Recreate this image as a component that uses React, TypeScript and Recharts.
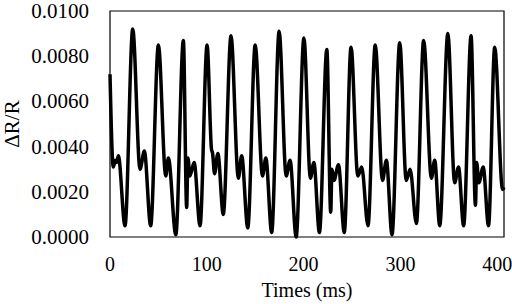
import { Label, Line, LineChart, ReferenceArea, XAxis, YAxis } from 'recharts';

// time (ms) and ΔR/R
const times = [
  0, 3.4, 5.5, 7, 8.6, 15.5, 23.5, 31, 35.5, 42, 50, 57.6, 60.3, 68, 75.8, 79.2, 80.5, 82.5, 86.9, 93,
  100.3, 104.8, 106, 108, 111.4, 117, 125, 132.6, 136, 142.3, 150, 157.5, 161, 167, 174.7, 182, 186, 192.3,
  200.3, 207, 210.6, 216.3, 224, 228, 229.3, 231.3, 236, 242, 249, 256, 260, 266.5, 274, 281.5, 285.5, 291.3,
  299.3, 306, 310, 316.5, 324, 332, 335.4, 340.6, 349, 356, 360, 365.3, 373, 377.5, 378.8, 381, 385.5, 391,
  397.4, 405.5, 407
];
const values = [
  0.0072, 0.0031, 0.0034, 0.0033, 0.0036, 0.0005, 0.0092, 0.003, 0.0038, 0.0005, 0.0085, 0.0027, 0.0035, 0.0001,
  0.0087, 0.0013, 0.0035, 0.0027, 0.0033, 0.0005,
  0.0085, 0.0039, 0.0037, 0.0028, 0.0037, 0.001, 0.0089, 0.0026, 0.0036, 0.0004, 0.0085, 0.0027, 0.0035, 0.0002,
  0.0091, 0.0027, 0.0034, 0.0,
  0.0088, 0.0026, 0.0033, 0.0002, 0.0083, 0.0011, 0.003, 0.0025, 0.0032, 0.0002, 0.0084, 0.0027, 0.0031, 0.0005,
  0.0085, 0.0025, 0.0034, 0.0001,
  0.0086, 0.0025, 0.003, 0.0006, 0.0087, 0.0026, 0.0034, 0.0005, 0.009, 0.0024, 0.0031, 0.0005, 0.0089, 0.0014,
  0.0033, 0.0024, 0.0031, 0.0005,
  0.0084, 0.0021, 0.0022
];
const xTicks = [0, 100, 200, 300, 400];
const yTicks = [0, 0.002, 0.004, 0.006, 0.008, 0.01];

const data = times.map((t, i) => ({ t, v: values[i] }));

const font = 'Liberation Serif';

function XTick(props: any) {
  const { x, y, payload } = props;
  return (
    <text x={x} y={y + 11} textAnchor="middle" fontSize={20} fill="#000" fontFamily={font}>
      {payload.value}
    </text>
  );
}

function YTick(props: any) {
  const { x, y, payload } = props;
  return (
    <text x={x + 5} y={y + 7} textAnchor="end" fontSize={21} fill="#000" fontFamily={font}>
      {Number(payload.value).toFixed(4)}
    </text>
  );
}

export default function App() {
  return (
    <div style={{ position: 'absolute', left: 0, top: 0, background: '#fff' }}>
      <LineChart width={512} height={304} data={data} margin={{ top: 11, right: 8, bottom: 0, left: 0 }}>
        <XAxis
          dataKey="t"
          type="number"
          domain={[0, 407]}
          ticks={xTicks}
          axisLine={false}
          tickLine={false}
          tickMargin={17}
          height={67}
          tick={<XTick />}
        >
          <Label value="Times (ms)" position="insideBottom" offset={7} fontSize={20} fill="#000" fontFamily={font} />
        </XAxis>
        <YAxis
          type="number"
          domain={[0, 0.01]}
          ticks={yTicks}
          axisLine={false}
          tickLine={false}
          tickMargin={20}
          width={110}
          tick={<YTick />}
        >
          <Label
            value="ΔR/R"
            angle={-90}
            position="insideLeft"
            offset={12}
            fontSize={21}
            fill="#000"
            fontFamily={font}
            style={{ textAnchor: 'middle' }}
          />
        </YAxis>
        <ReferenceArea x1={0} x2={407} y1={0} y2={0.01} fill="none" stroke="#000" strokeWidth={1.2} ifOverflow="extendDomain" />
        <Line type="monotone" dataKey="v" stroke="#000" strokeWidth={3.5} dot={false} isAnimationActive={false} />
      </LineChart>
    </div>
  );
}
